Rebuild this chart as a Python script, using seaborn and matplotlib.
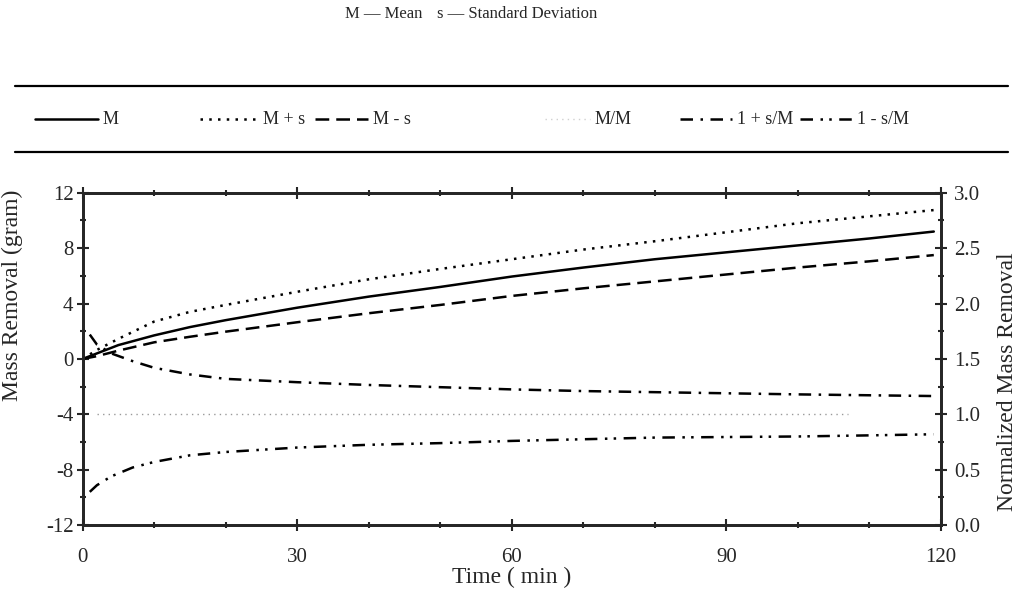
"""
Mass removal vs time: mean, mean +/- std, and normalized curves
"""
import matplotlib
matplotlib.use('Agg')
import matplotlib.pyplot as plt
from matplotlib.lines import Line2D
from matplotlib.ticker import MultipleLocator, FormatStrFormatter
import seaborn as sns
import pandas as pd

# mass removal (gram), left axis
time = [0, 2, 5, 10, 15, 20, 30, 40, 50, 60, 70, 80, 90, 100, 110, 119]
mean = [0, 0.4, 1.0, 1.7, 2.3, 2.8, 3.7, 4.5, 5.2, 5.95, 6.6, 7.2, 7.7, 8.2, 8.7, 9.2]
mean_plus_s = [0, 0.65, 1.45, 2.7, 3.4, 3.9, 4.85, 5.75, 6.5, 7.2, 7.9, 8.5, 9.15, 9.8, 10.3, 10.75]
mean_minus_s = [0, 0.2, 0.6, 1.2, 1.6, 1.97, 2.65, 3.3, 3.9, 4.55, 5.1, 5.6, 6.1, 6.6, 7.05, 7.5]

# normalized mass removal, right axis
norm_time = [1, 2, 4, 7, 10, 15, 20, 30, 40, 50, 60, 70, 80, 90, 100, 110, 119]
one_plus = [1.72, 1.63, 1.55, 1.48, 1.42, 1.36, 1.32, 1.29, 1.265, 1.245, 1.225,
            1.21, 1.20, 1.19, 1.18, 1.172, 1.165]
one_minus = [0.30, 0.36, 0.44, 0.52, 0.57, 0.63, 0.66, 0.70, 0.725, 0.74, 0.76,
             0.775, 0.79, 0.795, 0.80, 0.81, 0.82]
mm_time = [2, 107]
mm_values = [1.0, 1.0]

df = pd.DataFrame({"time": time, "M": mean, "M+s": mean_plus_s, "M-s": mean_minus_s})
dfn = pd.DataFrame({"time": norm_time, "1+s/M": one_plus, "1-s/M": one_minus})
dfm = pd.DataFrame({"time": mm_time, "M/M": mm_values})

sns.set_style("ticks")
plt.rcParams['font.family'] = ['Liberation Serif', 'DejaVu Serif']

STYLES = {
    "M": "-",
    "M+s": (0, (1, 2.5)),
    "M-s": (0, (5.5, 2.8)),
    "M/M": (0, (1, 3)),
    "1+s/M": (0, (5, 3, 1, 3)),
    "1-s/M": (0, (5, 3, 1, 2.5, 1, 3)),
}
LW = 1.8

fig = plt.figure(figsize=(10.2, 6.12), dpi=100)
ax = fig.add_axes([0.081, 0.142, 0.8415, 0.543])
ax2 = ax.twinx()

for col in ["M", "M+s", "M-s"]:
    sns.lineplot(data=df, x="time", y=col, ax=ax, color="black", lw=LW,
                 linestyle=STYLES[col], legend=False)
for col in ["1+s/M", "1-s/M"]:
    sns.lineplot(data=dfn, x="time", y=col, ax=ax2, color="black", lw=LW,
                 linestyle=STYLES[col], legend=False)
sns.lineplot(data=dfm, x="time", y="M/M", ax=ax2, color="#9a9a9a", lw=1.0,
             linestyle=STYLES["M/M"], legend=False)

ax.set_xlim(0, 120)
ax.set_ylim(-12, 12)
ax2.set_ylim(0, 3)

ax.xaxis.set_major_locator(MultipleLocator(30))
ax.xaxis.set_minor_locator(MultipleLocator(10))
ax.yaxis.set_major_locator(MultipleLocator(4))
ax.yaxis.set_minor_locator(MultipleLocator(2))
ax2.yaxis.set_major_locator(MultipleLocator(0.5))
ax2.yaxis.set_minor_locator(MultipleLocator(0.25))
ax.yaxis.set_major_formatter(FormatStrFormatter('%d'))
ax2.yaxis.set_major_formatter(FormatStrFormatter('%.1f'))

ax.tick_params(axis='x', which='both', direction='inout', top=True, width=1.5,
               labelsize=15, pad=12)
ax.tick_params(axis='y', which='both', direction='inout', width=1.5,
               labelsize=15, pad=2)
ax.tick_params(which='major', length=9)
ax.tick_params(which='minor', length=4)
ax2.tick_params(axis='y', which='both', direction='inout', width=1.5,
                labelsize=15, pad=5)
ax2.tick_params(which='major', length=9)
ax2.tick_params(which='minor', length=4)

for a in (ax, ax2):
    for s in a.spines.values():
        s.set_linewidth(2)
        s.set_visible(True)

ax.set_xlabel("Time ( min )", fontsize=17)
ax.set_ylabel("Mass Removal (gram)", fontsize=17)
ax2.set_ylabel("Normalized Mass Removal", fontsize=17)
ax.xaxis.set_label_coords(0.5, -0.125)
ax.yaxis.set_label_coords(-0.069, 0.69)
ax2.yaxis.set_label_coords(1.065, 0.433)

# header
fig.text(345 / 1020, 1 - 14 / 612, "M \u2014 Mean", fontsize=12, va='center', ha='left')
fig.text(437 / 1020, 1 - 14 / 612, "s \u2014 Standard Deviation", fontsize=12,
         va='center', ha='left')

# legend band
W, H = 1020, 612
for yy in (86, 152):
    fig.add_artist(Line2D([15 / W, 1008 / W], [1 - yy / H, 1 - yy / H],
                          color="black", lw=1.6, transform=fig.transFigure))
entries = [
    ("M", 35, 98, "M", "black", LW),
    ("M+s", 200, 258, "M + s", "black", LW),
    ("M-s", 315, 368, "M - s", "black", LW),
    ("M/M", 545, 590, "M/M", "#d0d0d0", 1.0),
    ("1+s/M", 680, 732, "1 + s/M", "black", LW),
    ("1-s/M", 800, 852, "1 - s/M", "black", LW),
]
ly = 1 - 119 / H
for key, x0, x1, label, color, lw in entries:
    fig.add_artist(Line2D([x0 / W, x1 / W], [ly, ly], color=color, lw=lw,
                          linestyle=STYLES[key], transform=fig.transFigure))
    fig.text((x1 + 5) / W, ly, label, fontsize=13, va='center', ha='left')

fig.savefig("out.png", dpi=100)
